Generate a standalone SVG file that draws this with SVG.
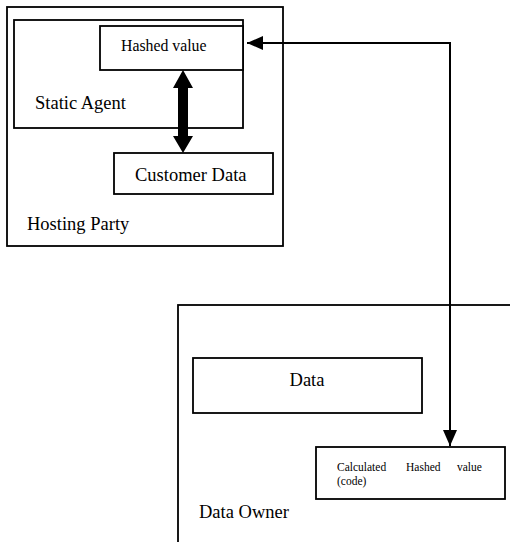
<svg xmlns="http://www.w3.org/2000/svg" width="510" height="542" viewBox="0 0 510 542">
  <style>
    .box { fill: #fff; stroke: #000; stroke-width: 1.8; }
    .frame { fill: none; stroke: #000; stroke-width: 1.8; }
    .lbl { font-family: "Liberation Serif", "Times New Roman", serif; font-size: 18.5px; fill: #000; }
    .sm { font-family: "Liberation Serif", "Times New Roman", serif; font-size: 15.8px; fill: #000; }
    .xs { font-family: "Liberation Serif", "Times New Roman", serif; font-size: 11.5px; fill: #000; }
    .wire { fill: none; stroke: #000; stroke-width: 2; }
  </style>
  <defs>
    <marker id="head" viewBox="0 0 16 14" refX="16" refY="7" markerWidth="16" markerHeight="14" markerUnits="userSpaceOnUse" orient="auto-start-reverse">
      <path d="M0,0 L16,7 L0,14 z" fill="#000"/>
    </marker>
  </defs>
  <rect width="510" height="542" fill="#fff"/>

  <!-- Hosting party side -->
  <g id="hosting-party">
    <rect class="frame" x="7" y="7" width="276" height="239"/>
    <text class="lbl" x="27" y="230">Hosting Party</text>
  </g>
  <g id="static-agent">
    <rect class="box" x="14" y="20" width="229" height="108"/>
    <text class="lbl" x="35" y="109">Static Agent</text>
  </g>
  <g id="hashed-value">
    <rect class="box" x="100" y="26" width="143" height="44"/>
    <text class="sm" x="121" y="51">Hashed value</text>
  </g>
  <g id="customer-data">
    <rect class="box" x="114" y="153" width="159" height="41"/>
    <text class="lbl" x="135" y="181">Customer Data</text>
  </g>

  <!-- Data owner side -->
  <g id="data-owner">
    <rect class="frame" x="178" y="305" width="345" height="250"/>
    <text class="lbl" x="199" y="518">Data Owner</text>
  </g>
  <g id="data">
    <rect class="box" x="193" y="358" width="229" height="55"/>
    <text class="lbl" x="307" y="386" text-anchor="middle">Data</text>
  </g>
  <g id="calculated-hash">
    <rect class="box" x="316" y="447" width="189" height="52"/>
    <text class="xs" y="471"><tspan x="337">Calculated</tspan><tspan x="406">Hashed</tspan><tspan x="457">value</tspan></text>
    <text class="xs" x="337" y="485">(code)</text>
  </g>

  <!-- Connectors -->
  <g id="connectors">
    <polygon points="183,70 193,88 188,88 188,136 193,136 183,153 173,136 178,136 178,88 173,88" fill="#000"/>
    <path class="wire" d="M247,43 H450 V446" marker-start="url(#head)" marker-end="url(#head)"/>
  </g>
</svg>
